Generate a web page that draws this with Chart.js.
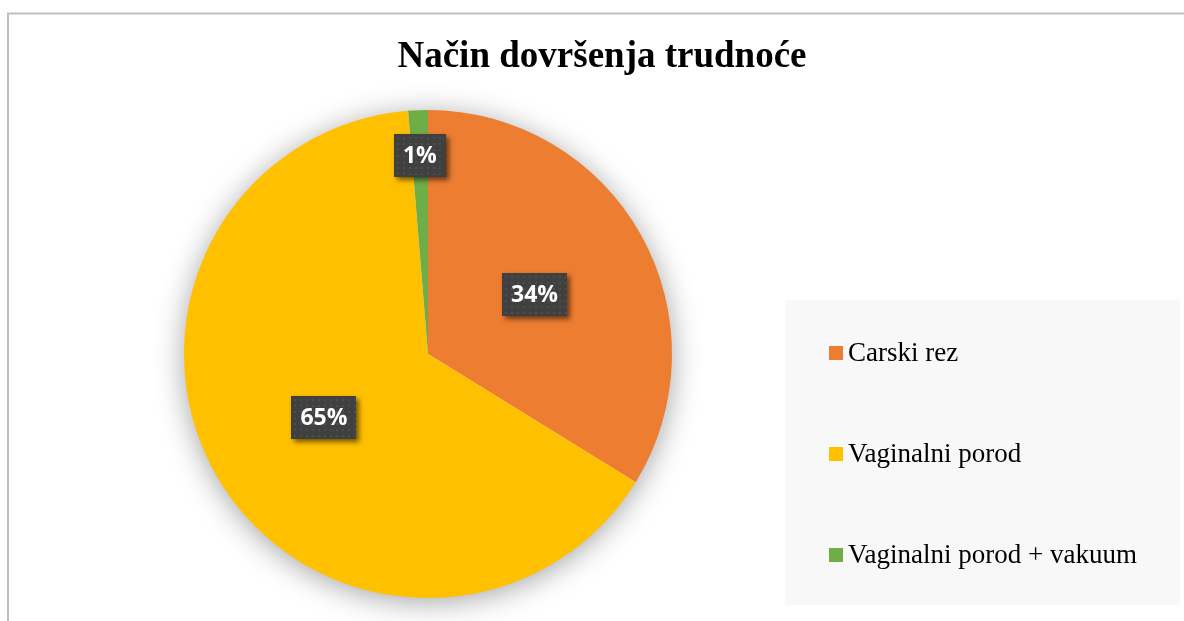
<!DOCTYPE html>
<html>
<head>
<meta charset="utf-8">
<script src="https://cdn.jsdelivr.net/npm/chart.js@4/dist/chart.umd.min.js"></script>
<style>
  html, body { margin: 0; padding: 0; background: #ffffff; }
  #wrap { position: relative; width: 1184px; height: 621px; }
</style>
</head>
<body>
<div id="wrap"><canvas id="c" width="1184" height="621"></canvas></div>
<script>
const titleText = 'Način dovršenja trudnoće';
const categories = ['Carski rez', 'Vaginalni porod', 'Vaginalni porod + vakuum'];
const values = [33.8, 64.9, 1.3];
const colors = ['#ED7D31', '#FFC000', '#70AD47'];

const frameAndShadow = {
  id: 'frameAndShadow',
  beforeDraw(chart) {
    const ctx = chart.ctx;
    ctx.save();
    ctx.fillStyle = '#ffffff';
    ctx.fillRect(0, 0, chart.width, chart.height);
    // outer frame (clipped at right/bottom)
    ctx.strokeStyle = '#BFBFBF';
    ctx.lineWidth = 2;
    ctx.beginPath();
    ctx.moveTo(8, chart.height + 5);
    ctx.lineTo(8, 13.5);
    ctx.lineTo(chart.width + 5, 13.5);
    ctx.stroke();
    // title
    ctx.fillStyle = '#000000';
    ctx.font = 'bold 37px "Liberation Serif", "Times New Roman", serif';
    ctx.textAlign = 'center';
    ctx.textBaseline = 'alphabetic';
    ctx.fillText(titleText, 602, 67);
    // legend box
    ctx.fillStyle = '#F8F8F8';
    ctx.fillRect(785, 300, 395, 305);
    ctx.font = '27px "Liberation Serif", "Times New Roman", serif';
    ctx.textAlign = 'left';
    ctx.textBaseline = 'middle';
    const rowsY = [353, 454, 555];
    categories.forEach((name, i) => {
      ctx.fillStyle = colors[i];
      ctx.fillRect(829, rowsY[i] - 7, 14, 14);
      ctx.fillStyle = '#000000';
      ctx.fillText(name, 848, rowsY[i] + 1);
    });
    ctx.restore();
  },
  beforeDatasetsDraw(chart) {
    const arc = chart.getDatasetMeta(0).data[0];
    if (!arc) return;
    const ctx = chart.ctx;
    ctx.save();
    ctx.shadowColor = 'rgba(0,0,0,0.38)';
    ctx.shadowBlur = 30;
    ctx.shadowOffsetX = 0;
    ctx.shadowOffsetY = 4;
    ctx.fillStyle = '#ffffff';
    ctx.beginPath();
    ctx.arc(arc.x, arc.y, arc.outerRadius - 1, 0, Math.PI * 2);
    ctx.fill();
    ctx.restore();
  }
};

const dataLabels = {
  id: 'dataLabels',
  afterDatasetsDraw(chart) {
    const ctx = chart.ctx;
    const meta = chart.getDatasetMeta(0);
    const total = values.reduce((a, b) => a + b, 0);
    ctx.save();
    ctx.font = 'bold 23px "Open Sans", "DejaVu Sans", sans-serif';
    meta.data.forEach((el, i) => {
      const pct = values[i] / total;
      const txt = Math.round(pct * 100) + '%';
      const mid = (el.startAngle + el.endAngle) / 2;
      const rFrac = pct < 0.05 ? 0.815 : 0.5;
      const r = el.outerRadius * rFrac;
      const cx = el.x + Math.cos(mid) * r;
      const cy = el.y + Math.sin(mid) * r;
      const tw = ctx.measureText(txt).width;
      const w = Math.round(tw + 18), h = 43;
      const x = Math.round(cx - w / 2), y = Math.round(cy - h / 2);
      ctx.save();
      ctx.shadowColor = 'rgba(0,0,0,0.55)';
      ctx.shadowBlur = 5;
      ctx.shadowOffsetX = 3;
      ctx.shadowOffsetY = 3;
      ctx.fillStyle = '#404040';
      ctx.fillRect(x, y, w, h);
      ctx.restore();
      // subtle dotted texture
      ctx.fillStyle = 'rgba(255,255,255,0.07)';
      for (let yy = y + 3; yy < y + h - 1; yy += 6) {
        for (let xx = x + 3; xx < x + w - 1; xx += 6) {
          ctx.fillRect(xx, yy, 2, 2);
        }
      }
      ctx.fillStyle = '#ffffff';
      ctx.textAlign = 'center';
      ctx.textBaseline = 'middle';
      ctx.fillText(txt, cx, cy + 1);
    });
    ctx.restore();
  }
};

new Chart(document.getElementById('c'), {
  type: 'pie',
  data: {
    labels: categories,
    datasets: [{
      data: values,
      backgroundColor: colors,
      borderWidth: 0
    }]
  },
  options: {
    responsive: false,
    animation: false,
    devicePixelRatio: 1,
    layout: { padding: { left: 184, right: 512, top: 110, bottom: 23 } },
    plugins: {
      legend: { display: false },
      title: { display: false },
      tooltip: { enabled: false }
    }
  },
  plugins: [frameAndShadow, dataLabels]
});
</script>
</body>
</html>
